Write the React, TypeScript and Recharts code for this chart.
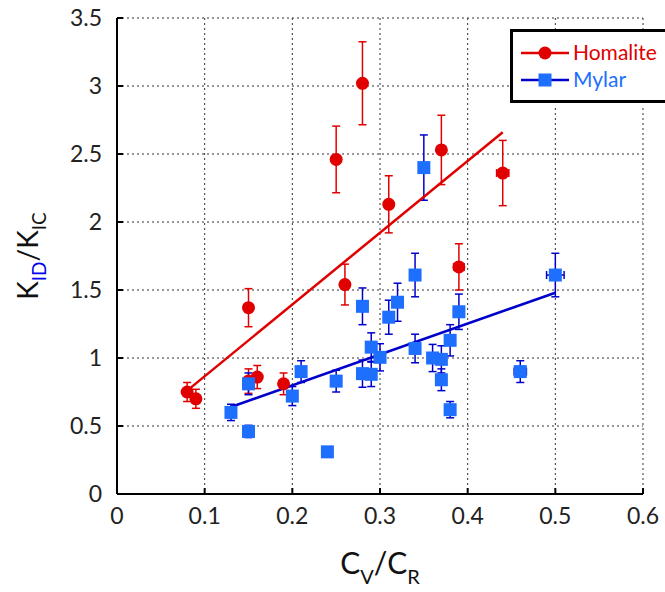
import { ScatterChart, Scatter, XAxis, YAxis, CartesianGrid, ErrorBar } from 'recharts';

// Homalite: x = Cv/Cr, y = KID/KIC, ey / ex = error half-widths
const homalite = [
  { x: 0.08, y: 0.75, ey: 0.07, ex: 0 },
  { x: 0.09, y: 0.7, ey: 0.07, ex: 0 },
  { x: 0.15, y: 1.37, ey: 0.14, ex: 0 },
  { x: 0.15, y: 0.83, ey: 0.09, ex: 0 },
  { x: 0.16, y: 0.86, ey: 0.085, ex: 0 },
  { x: 0.19, y: 0.81, ey: 0.08, ex: 0 },
  { x: 0.25, y: 2.46, ey: 0.245, ex: 0 },
  { x: 0.26, y: 1.54, ey: 0.15, ex: 0 },
  { x: 0.28, y: 3.02, ey: 0.305, ex: 0 },
  { x: 0.31, y: 2.13, ey: 0.21, ex: 0.004 },
  { x: 0.37, y: 2.53, ey: 0.255, ex: 0 },
  { x: 0.39, y: 1.67, ey: 0.17, ex: 0.006 },
  { x: 0.44, y: 2.36, ey: 0.24, ex: 0.007 },
];

const mylar = [
  { x: 0.13, y: 0.6, ey: 0.06, ex: 0 },
  { x: 0.15, y: 0.81, ey: 0.08, ex: 0 },
  { x: 0.15, y: 0.46, ey: 0.045, ex: 0 },
  { x: 0.2, y: 0.72, ey: 0.07, ex: 0 },
  { x: 0.21, y: 0.9, ey: 0.08, ex: 0 },
  { x: 0.24, y: 0.31, ey: 0, ex: 0 },
  { x: 0.25, y: 0.83, ey: 0.08, ex: 0 },
  { x: 0.28, y: 1.38, ey: 0.135, ex: 0 },
  { x: 0.28, y: 0.885, ey: 0.1, ex: 0 },
  { x: 0.29, y: 1.08, ey: 0.105, ex: 0 },
  { x: 0.29, y: 0.88, ey: 0.09, ex: 0 },
  { x: 0.3, y: 1.005, ey: 0.1, ex: 0 },
  { x: 0.31, y: 1.3, ey: 0.125, ex: 0.004 },
  { x: 0.32, y: 1.41, ey: 0.14, ex: 0.004 },
  { x: 0.34, y: 1.61, ey: 0.16, ex: 0.004 },
  { x: 0.34, y: 1.07, ey: 0.105, ex: 0 },
  { x: 0.35, y: 2.4, ey: 0.24, ex: 0.004 },
  { x: 0.36, y: 1.0, ey: 0.1, ex: 0.004 },
  { x: 0.37, y: 0.99, ey: 0.1, ex: 0.004 },
  { x: 0.37, y: 0.84, ey: 0.08, ex: 0.004 },
  { x: 0.38, y: 1.13, ey: 0.115, ex: 0.004 },
  { x: 0.38, y: 0.62, ey: 0.06, ex: 0.004 },
  { x: 0.39, y: 1.34, ey: 0.13, ex: 0.006 },
  { x: 0.46, y: 0.9, ey: 0.08, ex: 0.007 },
  { x: 0.5, y: 1.61, ey: 0.16, ex: 0.01 },
];

// linear fits
const homaliteFit = [
  { x: 0.08, y: 0.76 },
  { x: 0.44, y: 2.66 },
];
const mylarFit = [
  { x: 0.13, y: 0.64 },
  { x: 0.5, y: 1.48 },
];

const xTicks = [0, 0.1, 0.2, 0.3, 0.4, 0.5, 0.6];
const yTicks = [0, 0.5, 1, 1.5, 2, 2.5, 3, 3.5];

const RED = '#e00000';
const BLUE_MARK = '#1f6fff';
const BLUE_LINE = '#0000cc';
const FONT = 'Lato, "Open Sans", sans-serif';

const tickStyle = { fontSize: 23, fill: '#222', fontFamily: FONT };

const Circle = (p: any) => <circle cx={p.cx} cy={p.cy} r={6.5} fill={RED} />;
const Square = (p: any) => <rect x={p.cx - 6.5} y={p.cy - 6.5} width={13} height={13} fill={BLUE_MARK} />;
const NoShape = () => <g />;

const fmt = (v: number) => String(v);

function XTitle(props: any) {
  const vb = props.viewBox || { x: 0, y: 0, width: 0, height: 0 };
  const cx = vb.x + vb.width / 2;
  return (
    <text x={cx} y={vb.y + 80} textAnchor="middle" fontFamily={FONT} fontSize={30} fill="#111">
      C<tspan fontSize={20} dy={10}>V</tspan>
      <tspan dy={-10}>/C</tspan>
      <tspan fontSize={20} dy={10}>R</tspan>
    </text>
  );
}

function YTitle(props: any) {
  const vb = props.viewBox || { x: 0, y: 0, width: 0, height: 0 };
  const cy = vb.y + vb.height / 2;
  const cx = 38;
  return (
    <text
      x={cx}
      y={cy}
      transform={`rotate(-90 ${cx} ${cy})`}
      textAnchor="middle"
      fontFamily={FONT}
      fontSize={28}
      fill="#111"
    >
      K<tspan fontSize={19} dy={8} fill="#0000ee">ID</tspan>
      <tspan dy={-8}>/K</tspan>
      <tspan fontSize={19} dy={8}>IC</tspan>
    </text>
  );
}

function LegendBox() {
  return (
    <svg
      width={160}
      height={76}
      style={{ position: 'absolute', left: 510, top: 29, background: '#fff', overflow: 'visible' }}
    >
      <rect x={1.5} y={1.5} width={160} height={71} fill="#fff" stroke="#000" strokeWidth={3} />
      <line x1={11} x2={59} y1={24} y2={24} stroke={RED} strokeWidth={2.5} />
      <circle cx={35} cy={24} r={6.5} fill={RED} />
      <text x={63} y={31} fontFamily={FONT} fontSize={21} fill={RED}>Homalite</text>
      <line x1={11} x2={59} y1={51} y2={51} stroke={BLUE_LINE} strokeWidth={2.5} />
      <rect x={28.5} y={44.5} width={13} height={13} fill={BLUE_MARK} />
      <text x={63} y={58} fontFamily={FONT} fontSize={21} fill={BLUE_MARK}>Mylar</text>
    </svg>
  );
}

export default function App() {
  return (
    <div style={{ position: 'absolute', left: 0, top: 0, width: 665, height: 592, background: '#fff', overflow: 'hidden' }}>
      <ScatterChart width={665} height={592} margin={{ top: 18, right: 22, bottom: 0, left: 0 }}>
        <CartesianGrid stroke="#333" strokeDasharray="2 3" strokeWidth={1} />
        <XAxis
          type="number"
          dataKey="x"
          domain={[0, 0.6]}
          ticks={xTicks}
          tickFormatter={fmt}
          tick={tickStyle}
          height={98}
          tickSize={-6}
          tickMargin={20}
          axisLine={{ stroke: '#000', strokeWidth: 2 }}
          tickLine={{ stroke: '#000', strokeWidth: 2 }}
          label={{ content: XTitle }}
        />
        <XAxis
          xAxisId="top"
          orientation="top"
          type="number"
          dataKey="x"
          domain={[0, 0.6]}
          ticks={xTicks}
          tick={false}
          height={0}
          tickSize={-6}
          axisLine={{ stroke: '#000', strokeWidth: 2 }}
          tickLine={{ stroke: '#000', strokeWidth: 2 }}
        />
        <YAxis
          type="number"
          dataKey="y"
          domain={[0, 3.5]}
          ticks={yTicks}
          tickFormatter={fmt}
          tick={tickStyle}
          width={117}
          tickSize={-6}
          tickMargin={21}
          axisLine={{ stroke: '#000', strokeWidth: 2 }}
          tickLine={{ stroke: '#000', strokeWidth: 2 }}
          label={{ content: YTitle }}
        />
        <YAxis
          yAxisId="right"
          orientation="right"
          type="number"
          dataKey="y"
          domain={[0, 3.5]}
          ticks={yTicks}
          tick={false}
          width={0}
          tickSize={-6}
          axisLine={{ stroke: '#000', strokeWidth: 2 }}
          tickLine={{ stroke: '#000', strokeWidth: 2 }}
        />
        <Scatter
          data={homaliteFit}
          line={{ stroke: RED, strokeWidth: 2.5 }}
          shape={NoShape}
          isAnimationActive={false}
        />
        <Scatter
          data={mylarFit}
          line={{ stroke: BLUE_LINE, strokeWidth: 2.5 }}
          shape={NoShape}
          isAnimationActive={false}
        />
        <Scatter data={homalite} shape={Circle} isAnimationActive={false}>
          <ErrorBar dataKey="ey" direction="y" width={4} stroke={RED} strokeWidth={1.5} isAnimationActive={false} />
          <ErrorBar dataKey="ex" direction="x" width={4} stroke={RED} strokeWidth={1.5} isAnimationActive={false} />
        </Scatter>
        <Scatter data={mylar} shape={Square} isAnimationActive={false}>
          <ErrorBar dataKey="ey" direction="y" width={4} stroke={BLUE_LINE} strokeWidth={1.5} isAnimationActive={false} />
          <ErrorBar dataKey="ex" direction="x" width={4} stroke={BLUE_LINE} strokeWidth={1.5} isAnimationActive={false} />
        </Scatter>
      </ScatterChart>
      <LegendBox />
    </div>
  );
}
